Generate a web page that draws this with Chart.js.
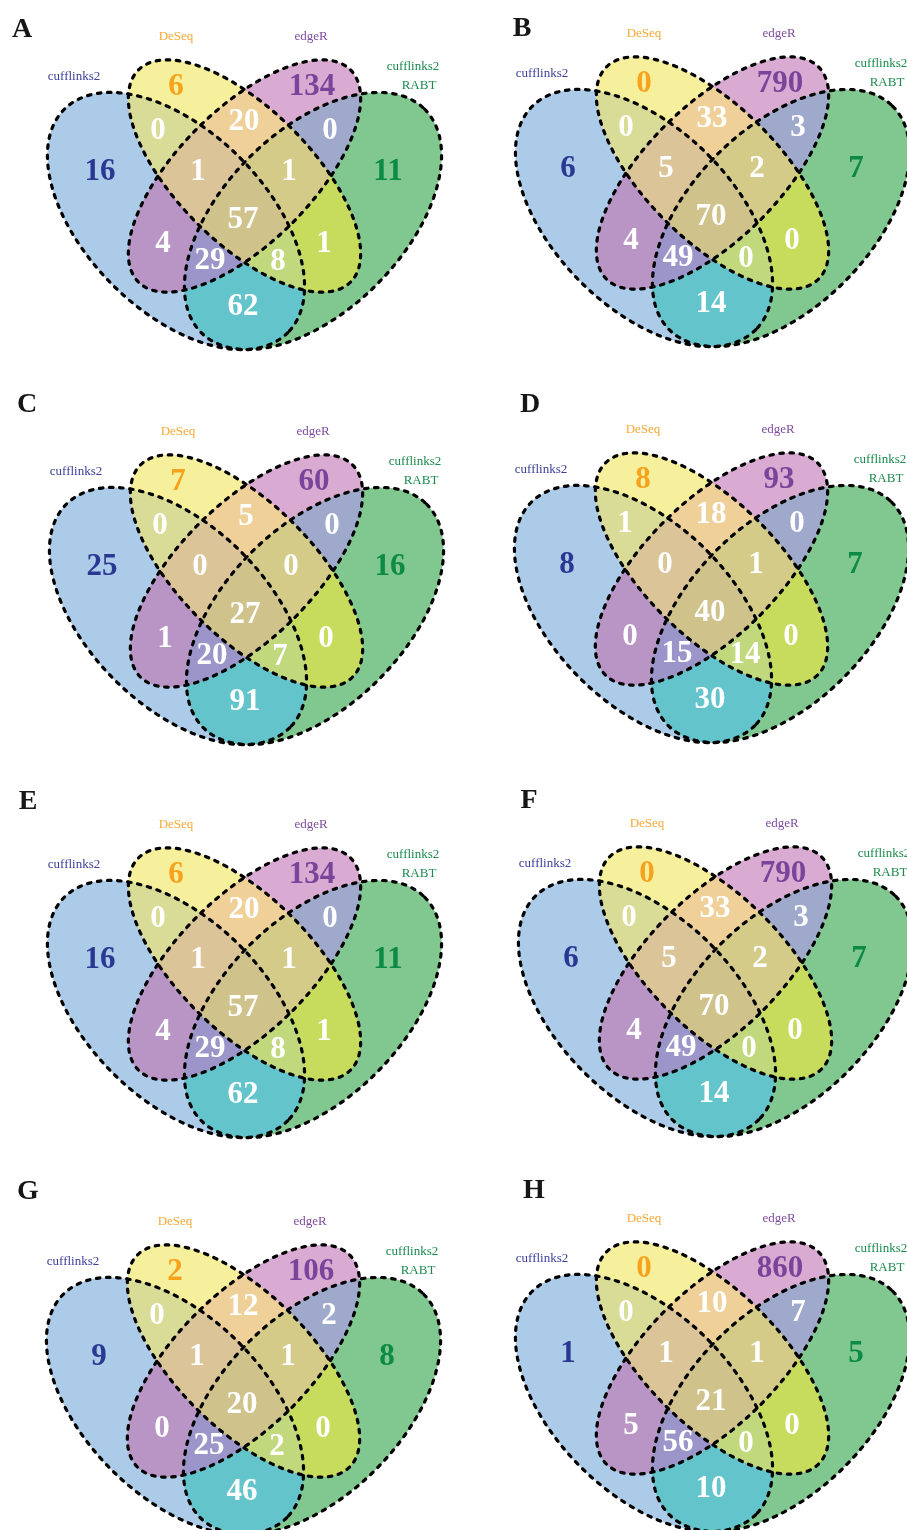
<!DOCTYPE html>
<html>
<head>
<meta charset="utf-8">
<title>Venn diagrams A-H</title>
<script src="https://cdn.jsdelivr.net/npm/chart.js@4.4.1/dist/chart.umd.min.js"></script>
<style>
    html, body { margin: 0; padding: 0; background: #fff; overflow: hidden; }
    #page { position: relative; width: 907px; height: 1530px; overflow: hidden; }
    #page canvas { position: absolute; }
    .tag {
        position: absolute; width: 40px; text-align: center;
        font: bold 28px "Liberation Serif", "Times New Roman", serif;
        line-height: 28px; color: #161616;
    }
</style>
</head>
<body>
<div id="page"></div>
<script>
// sets, left to right: cufflinks2 (c), DeSeq (D), edgeR (E), cufflinks2 RABT (R)
var setKeys = ['c', 'D', 'E', 'R'];
var setLabels = ['cufflinks2', 'DeSeq', 'edgeR', 'cufflinks2', 'RABT'];
var panelNames = ['A', 'B', 'C', 'D', 'E', 'F', 'G', 'H'];

// every counts array follows this region order
var regions = ['c', 'D', 'E', 'R', 'cD', 'DE', 'ER', 'cE', 'DR', 'cR', 'cDE', 'DER', 'cER', 'cDR', 'cDER'];

var countsA = [16, 6, 134, 11, 0, 20, 0, 4, 1, 62, 1, 1, 29, 8, 57];
var countsB = [6, 0, 790, 7, 0, 33, 3, 4, 0, 14, 5, 2, 49, 0, 70];
var countsC = [25, 7, 60, 16, 0, 5, 0, 1, 0, 91, 0, 0, 20, 7, 27];
var countsD = [8, 8, 93, 7, 1, 18, 0, 0, 0, 30, 0, 1, 15, 14, 40];
var countsE = [16, 6, 134, 11, 0, 20, 0, 4, 1, 62, 1, 1, 29, 8, 57];
var countsF = [6, 0, 790, 7, 0, 33, 3, 4, 0, 14, 5, 2, 49, 0, 70];
var countsG = [9, 2, 106, 8, 0, 12, 2, 0, 0, 46, 1, 1, 25, 2, 20];
var countsH = [1, 0, 860, 5, 0, 10, 7, 5, 0, 10, 1, 1, 56, 0, 21];

var allCounts = [countsA, countsB, countsC, countsD, countsE, countsF, countsG, countsH];

// ---- layout (diagram units = pixels of one panel, y pointing down) ----
var panelPos = [[0, 0], [468, -3], [2, 395], [467, 393], [0, 788], [471, 787], [-1, 1185], [468, 1182]];
var tagPos = [[22, 28], [522, 27], [27, 403], [530, 403], [28, 800], [529, 799], [28, 1190], [534, 1189]];

var shapes = [
    {cx: 176, cy: 221, a: 158, b: 90, rot: 45},
    {cx: 244.5, cy: 176, a: 150, b: 67, rot: 45},
    {cx: 244.5, cy: 176, a: 150, b: 67, rot: -45},
    {cx: 313, cy: 221, a: 158, b: 90, rot: -45}
];

var regionSpot = {
    c: [100, 172], D: [176, 87], E: [312, 87], R: [388, 172],
    cD: [158, 131], DE: [244, 122], ER: [330, 131],
    cE: [163, 244], DR: [324, 244], cR: [243, 307],
    cDE: [198, 172], DER: [289, 172],
    cER: [210, 261], cDR: [278, 262], cDER: [243, 220]
};
var regionFill = {
    c: '#abcbe9', D: '#f6ef9b', E: '#d9aad2', R: '#80c88f',
    cD: '#d9dc97', DE: '#efd098', ER: '#9ea9cc',
    cE: '#b895c4', DR: '#c7db5c', cR: '#63c4cc',
    cDE: '#dbc497', DER: '#d4cb89',
    cER: '#9b95c9', cDR: '#c1d87d', cDER: '#cfc28b'
};
var numberColor = {c: '#2b3891', D: '#f6a21d', E: '#7b4399', R: '#0d8a45'};

var labelSpot = [[74, 77], [176, 37], [311, 37], [413, 67], [419, 86]];
var labelColor = ['#3b3f99', '#f7a935', '#7f4c9d', '#1b8a4d', '#1b8a4d'];

var PANEL_H = 380;

function ellipsePoints(s) {
    var pts = [];
    var th = s.rot * Math.PI / 180;
    for (var i = 0; i <= 180; i++) {
        var t = i / 180 * Math.PI * 2;
        pts.push({
            x: s.cx + s.a * Math.cos(t) * Math.cos(th) - s.b * Math.sin(t) * Math.sin(th),
            y: s.cy + s.a * Math.cos(t) * Math.sin(th) + s.b * Math.sin(t) * Math.cos(th)
        });
    }
    return pts;
}

function traceSet(chart, idx) {
    var pts = chart.getDatasetMeta(idx).data;
    var ctx = chart.ctx;
    ctx.beginPath();
    ctx.moveTo(pts[0].x, pts[0].y);
    for (var i = 1; i < pts.length; i++) {
        ctx.lineTo(pts[i].x, pts[i].y);
    }
    ctx.closePath();
}

var vennPlugin = {
    id: 'venn',
    beforeDatasetsDraw: function (chart) {
        var ctx = chart.ctx;
        // paint from single sets up to the four-way overlap
        var order = regions.slice().sort(function (p, q) { return p.length - q.length; });
        order.forEach(function (key) {
            ctx.save();
            key.split('').forEach(function (k) {
                traceSet(chart, setKeys.indexOf(k));
                ctx.clip();
            });
            ctx.fillStyle = regionFill[key];
            ctx.fillRect(0, 0, chart.width, chart.height);
            ctx.restore();
        });
    },
    afterDatasetsDraw: function (chart) {
        var ctx = chart.ctx;
        var xs = chart.scales.x, ys = chart.scales.y;
        var counts = chart.options.plugins.venn.counts;
        ctx.save();
        ctx.textAlign = 'center';
        ctx.textBaseline = 'middle';
        ctx.font = 'bold 31px "Liberation Serif", "Times New Roman", serif';
        regions.forEach(function (key, i) {
            var p = regionSpot[key];
            ctx.fillStyle = numberColor[key] || '#ffffff';
            ctx.fillText(String(counts[i]), xs.getPixelForValue(p[0]), ys.getPixelForValue(p[1]));
        });
        ctx.font = '13px "Liberation Serif", "Times New Roman", serif';
        setLabels.forEach(function (txt, i) {
            ctx.fillStyle = labelColor[i];
            ctx.fillText(txt, xs.getPixelForValue(labelSpot[i][0]), ys.getPixelForValue(labelSpot[i][1]));
        });
        ctx.restore();
    }
};

var page = document.getElementById('page');

panelNames.forEach(function (name, n) {
    var left = panelPos[n][0], top = panelPos[n][1];
    var w = Math.min(455, 907 - left);

    var canvas = document.createElement('canvas');
    canvas.width = w;
    canvas.height = PANEL_H;
    canvas.style.left = left + 'px';
    canvas.style.top = top + 'px';
    canvas.style.width = w + 'px';
    canvas.style.height = PANEL_H + 'px';
    page.appendChild(canvas);

    var tag = document.createElement('div');
    tag.className = 'tag';
    tag.textContent = name;
    tag.style.left = (tagPos[n][0] - 20) + 'px';
    tag.style.top = (tagPos[n][1] - 14) + 'px';
    page.appendChild(tag);

    var datasets = shapes.map(function (s, i) {
        return {
            type: 'line',
            label: setLabels[i],
            data: ellipsePoints(s),
            borderColor: '#000000',
            borderWidth: 3.2,
            borderDash: [3.5, 6.6],
            borderCapStyle: 'round',
            fill: false,
            tension: 0,
            pointRadius: 0
        };
    });

    new Chart(canvas.getContext('2d'), {
        type: 'scatter',
        data: {datasets: datasets},
        options: {
            responsive: false,
            maintainAspectRatio: false,
            animation: false,
            layout: {padding: 0},
            scales: {
                x: {type: 'linear', min: 0, max: w, display: false},
                y: {type: 'linear', min: 0, max: PANEL_H, reverse: true, display: false}
            },
            plugins: {
                legend: {display: false},
                tooltip: {enabled: false},
                venn: {counts: allCounts[n]}
            }
        },
        plugins: [vennPlugin]
    });
});
</script>
</body>
</html>
